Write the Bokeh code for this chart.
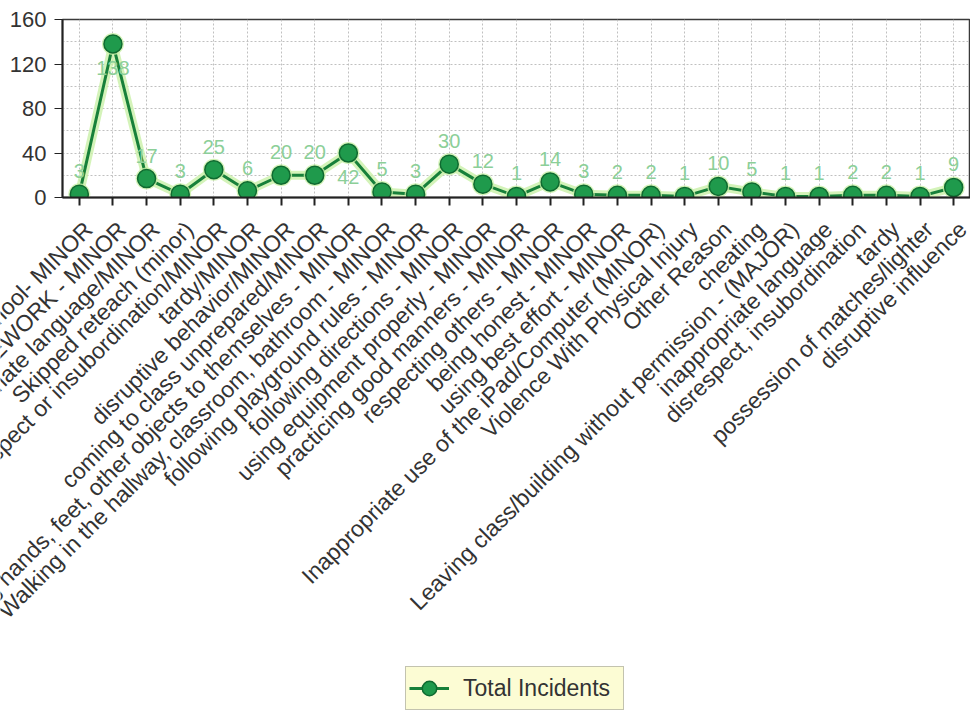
from bokeh.plotting import figure
from bokeh.models import (ColumnDataSource, FixedTicker, Legend, LegendItem,
                          LabelSet, Range1d)
from bokeh.layouts import column
from bokeh.core.properties import value
from bokeh.embed import file_html
from bokeh.resources import INLINE

categories = [
    "Tardy to school- MINOR",
    "NO HOMEWORK - MINOR",
    "Inappropriate language/MINOR",
    "Skipped reteach (minor)",
    "Disrespect or insubordination/MINOR",
    "tardy/MINOR",
    "disruptive behavior/MINOR",
    "coming to class unprepared/MINOR",
    "keeping hands, feet, other objects to themselves - MINOR",
    "Walking in the hallway, classroom, bathroom - MINOR",
    "following playground rules - MINOR",
    "following directions - MINOR",
    "using equipment properly - MINOR",
    "practicing good manners - MINOR",
    "respecting others - MINOR",
    "being honest - MINOR",
    "using best effort - MINOR",
    "Inappropriate use of the iPad/Computer (MINOR)",
    "Violence With Physical Injury",
    "Other Reason",
    "cheating",
    "Leaving class/building without permission - (MAJOR)",
    "inappropriate language",
    "disrespect, insubordination",
    "tardy",
    "possession of matches/lighter",
    "disruptive influence",
]
incidents = [3, 138, 17, 3, 25, 6, 20, 20, 42, 5, 3, 30, 12, 1, 14, 3, 2, 2,
             1, 10, 5, 1, 1, 2, 2, 1, 9]
label_below = [False, True, False, False, False, False, False, False, True,
               False, False, False, False, False, False, False, False, False,
               False, False, False, False, False, False, False, False, False]
y_ticks = [0, 40, 80, 120, 160]
y_minor = [20, 60, 100, 140]
series_name = "Total Incidents"

FONT = "Liberation Sans"

# layout constants (pixels)
W = 970
TOP = 19
FRAME_H = 178
LEFT = 62
AXIS_H = 12
A_H = TOP + FRAME_H + AXIS_H
B_H = 710 - A_H

plot_vals = [min(v, 40) if i == 8 else v for i, v in enumerate(incidents)]
above_y = [v for v, b in zip(plot_vals, label_below) if not b]
above_x = [c for c, b in zip(categories, label_below) if not b]
above_t = [str(v) for v, b in zip(incidents, label_below) if not b]
below_y = [v for v, b in zip(plot_vals, label_below) if b]
below_x = [c for c, b in zip(categories, label_below) if b]
below_t = [str(v) for v, b in zip(incidents, label_below) if b]

src = ColumnDataSource(dict(x=categories, y=plot_vals))
src_a = ColumnDataSource(dict(x=above_x, y=above_y, t=above_t))
src_b = ColumnDataSource(dict(x=below_x, y=below_y, t=below_t))

# ---------------- main chart ----------------
p = figure(x_range=categories, y_range=(0, 160),
           width=W, height=A_H,
           output_backend="svg", toolbar_location=None,
           min_border_top=TOP, min_border_left=LEFT, min_border_right=0,
           min_border_bottom=AXIS_H, background_fill_color="white",
           border_fill_color="white")
p.frame_align = False

p.outline_line_color = "#3a3a3a"
p.outline_line_width = 1.5

p.xgrid.grid_line_color = "#c0c0c0"
p.xgrid.grid_line_dash = "2 2"
p.ygrid.grid_line_color = "#c0c0c0"
p.ygrid.grid_line_dash = "2 2"
p.ygrid.minor_grid_line_color = "#c0c0c0"
p.ygrid.minor_grid_line_dash = "2 2"

p.yaxis.ticker = FixedTicker(ticks=y_ticks, minor_ticks=y_minor)
p.yaxis.minor_tick_line_color = None
p.yaxis.major_tick_out = 8
p.yaxis.major_tick_in = 0
p.yaxis.major_label_standoff = 8
p.yaxis.axis_line_width = 2
p.yaxis.axis_line_color = "#222222"
p.yaxis.major_tick_line_color = "#222222"
p.yaxis.major_label_text_font = FONT
p.yaxis.major_label_text_font_size = "22px"
p.yaxis.major_label_text_color = "#333333"

p.xaxis.axis_line_width = 2
p.xaxis.axis_line_color = "#222222"
p.xaxis.major_tick_line_color = "#222222"
p.xaxis.major_tick_line_width = 2
p.xaxis.major_tick_out = 8
p.xaxis.major_tick_in = 0
p.xaxis.major_label_standoff = 0
p.xaxis.major_label_text_font_size = "1px"
p.xaxis.major_label_text_color = None
p.xaxis.major_label_text_alpha = 0

p.line("x", "y", source=src, line_color="#c9f0a8", line_width=9, line_alpha=0.8)
p.line("x", "y", source=src, line_color="#17803a", line_width=3)
p.scatter("x", "y", source=src, size=22, fill_color="#c9f0a8",
          line_color=None, fill_alpha=0.8)
p.scatter("x", "y", source=src, size=18, fill_color="#1f9a4c",
          line_color="#0f6a30", line_width=1.5)

lab_a = LabelSet(x="x", y="y", text="t", source=src_a, y_offset=23,
                 text_align="center", text_baseline="middle",
                 text_font=value(FONT), text_font_size="20px",
                 text_color="#8ccf98")
lab_b = LabelSet(x="x", y="y", text="t", source=src_b, y_offset=-24,
                 text_align="center", text_baseline="middle",
                 text_font=value(FONT), text_font_size="20px",
                 text_color="#8ccf98")
p.add_layout(lab_a)
p.add_layout(lab_b)

# ---------------- category labels + legend panel ----------------
n = len(categories)
unit = (W - LEFT) / n
xs = [i + 0.5 for i in range(n)]
q = figure(width=W, height=B_H, output_backend="svg", toolbar_location=None,
           x_range=Range1d(-LEFT / unit, n), y_range=Range1d(-B_H, 0),
           x_axis_location=None, y_axis_location=None,
           min_border=0, min_border_left=0, min_border_right=0,
           min_border_top=0, min_border_bottom=0,
           background_fill_color="white", border_fill_color="white")
q.frame_align = False
q.outline_line_color = None
q.xgrid.visible = False
q.ygrid.visible = False

q.text(x=xs, y=[-16] * n, text=categories, angle=0.785, x_offset=9,
       text_align="right", text_baseline="alphabetic",
       text_font=value(FONT), text_font_size="23px", text_color="#333333")

nan = float("nan")
dummy = ColumnDataSource(dict(x=[nan], y=[nan]))
l_ln = q.line("x", "y", source=dummy, line_color="#17803a", line_width=3)
l_pt = q.scatter("x", "y", source=dummy, size=17, fill_color="#1f9a4c",
                 line_color="#0f6a30", line_width=1.5)

legend = Legend(items=[LegendItem(label=series_name, renderers=[l_ln, l_pt])],
                location=(405, 0), orientation="horizontal",
                label_text_font=FONT, label_text_font_size="23px",
                label_text_color="#333333",
                background_fill_color="#fcfcd4", background_fill_alpha=1,
                border_line_color="#8a8a8a", border_line_width=1.5,
                glyph_width=40, glyph_height=36, padding=3, margin=0,
                spacing=0, label_standoff=14, label_width=157)
q.add_layout(legend)

open("out.html", "w").write(file_html(column(p, q, spacing=0), INLINE))
